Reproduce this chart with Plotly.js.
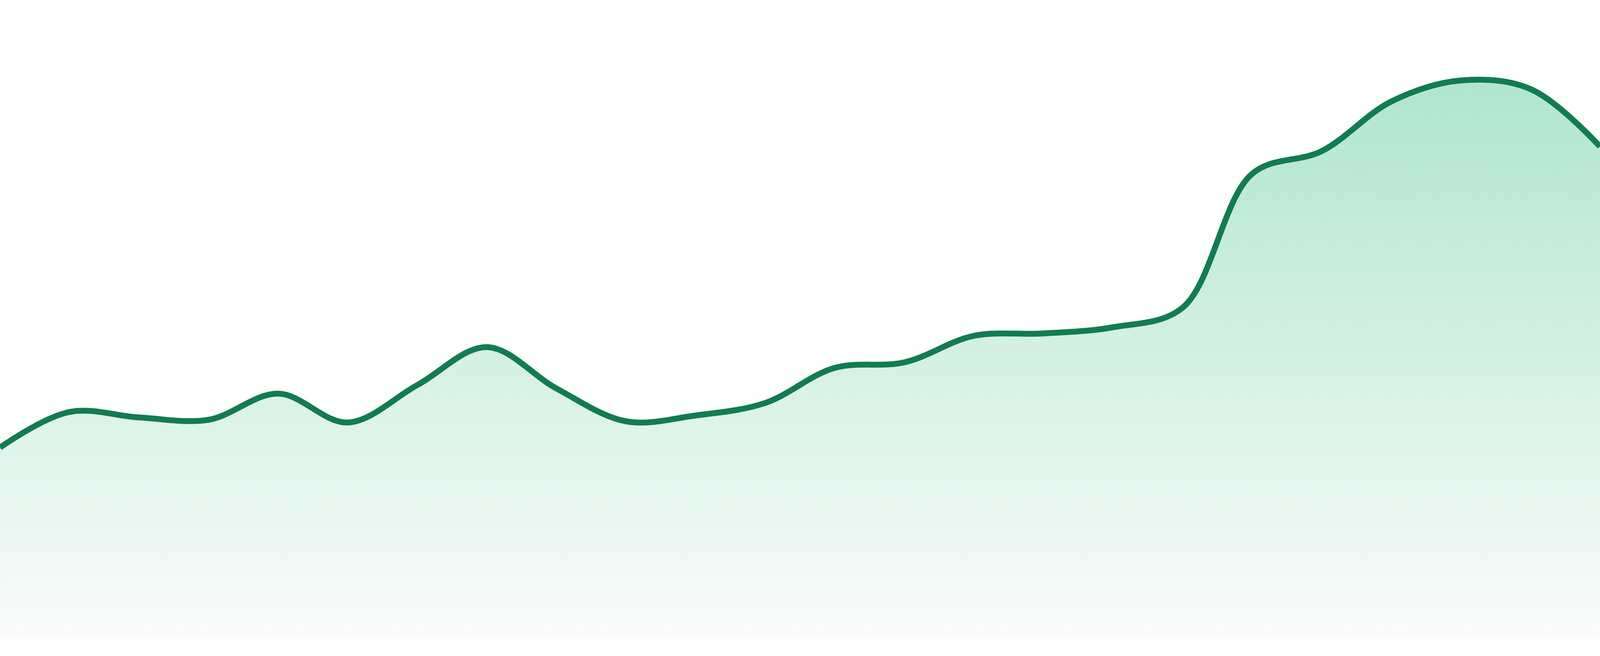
<!DOCTYPE html>
<html>
<head>
<meta charset="utf-8">
<script src="https://cdn.plot.ly/plotly-3.0.1.min.js"></script>
<style>
  html, body { margin: 0; padding: 0; background: #ffffff; overflow: hidden; }
  #chart { width: 100vw; height: 100vh; }
</style>
</head>
<body>
<div id="chart"></div>
<script>
// one value per step
let steps = []
for (let i = 0; i < 24; i++) steps.push(i)

let values = [
    48.7, 57.8, 56.4, 55.8, 62.5, 55.1, 64.7, 74.4,
    63.8, 55.4, 56.9, 60.1, 69.1, 70.5, 77.3, 77.9,
    79.5, 84.5, 118.8, 124.6, 137.3, 142.7, 140.5, 125.8
]

let yTop = 163.3

let lineColor = 'rgb(17, 124, 82)'
let fillTop = 'rgb(176, 229, 206)'
let fillBottom = 'rgb(250, 252, 251)'

// the browser caps the width, so fill whatever viewport we get
let W = window.innerWidth
let H = window.innerHeight

Plotly.newPlot('chart', [{
    x: steps,
    y: values,
    type: 'scatter',
    mode: 'lines',
    line: {
        color: lineColor,
        width: 15,
        shape: 'spline',
        smoothing: 1
    },
    fill: 'tozeroy',
    fillgradient: {
        type: 'vertical',
        start: 0,
        stop: Math.max(...values),
        colorscale: [[0, fillBottom], [1, fillTop]]
    },
    hoverinfo: 'skip'
}], {
    width: W,
    height: H,
    margin: { l: 0, r: 0, t: 0, b: 47, pad: 0 },
    paper_bgcolor: '#ffffff',
    plot_bgcolor: '#ffffff',
    showlegend: false,
    xaxis: {
        range: [0, 23],
        visible: false,
        fixedrange: true
    },
    yaxis: {
        range: [0, yTop],
        visible: false,
        fixedrange: true
    }
}, { displayModeBar: false, staticPlot: true });
</script>
</body>
</html>
